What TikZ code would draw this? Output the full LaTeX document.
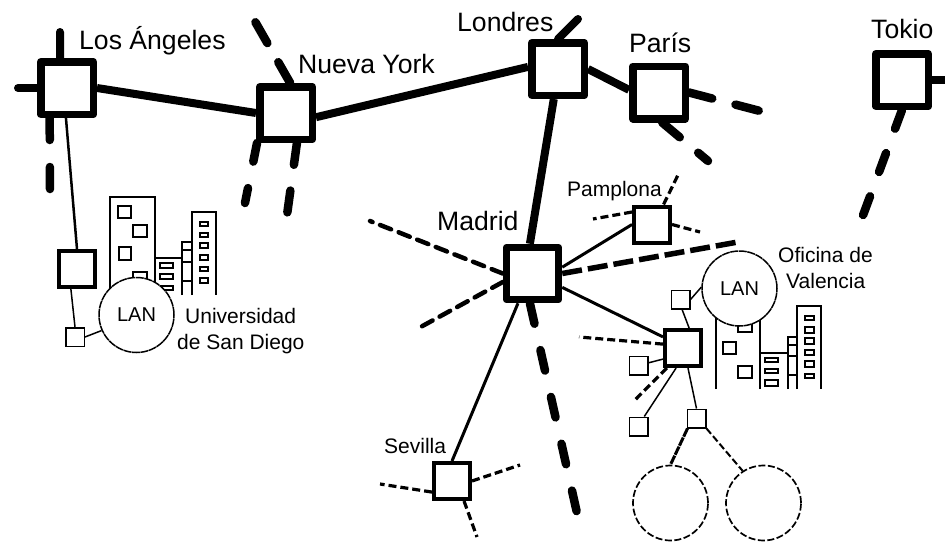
\documentclass[tikz,border=0pt]{standalone}
\usepackage{fontspec}
\setmainfont{Liberation Sans}
\tikzset{
  bigsw/.style={draw,fill=white,line width=7.5pt,minimum size=52.5pt,inner sep=0pt,line join=round},
  midsw/.style={draw,fill=white,line width=4pt,minimum size=36pt,inner sep=0pt},
  host/.style={draw,fill=white,line width=1.5pt,minimum size=18.5pt,inner sep=0pt},
  lan/.style={circle,draw,fill=white,line width=1.5pt,minimum size=75pt,inner sep=0pt,dash pattern=on 8pt off .6pt,font=\fontsize{20}{22}\selectfont},
  net/.style={circle,draw,fill=white,line width=1.7pt,minimum size=75pt,inner sep=0pt,dash pattern=on 7pt off 2.5pt},
  lab/.style={inner sep=0pt,anchor=base west},
  big/.style={lab,font=\fontsize{26.6}{28}\selectfont},
  sml/.style={lab,font=\fontsize{21}{23}\selectfont},
  trunk/.style={line width=8pt},
  trunkd/.style={line width=8.5pt,line cap=round},
  feed/.style={line width=4.5pt,line cap=round,dash pattern=on 12pt off 8pt},
  feedb/.style={line width=5.5pt,dash pattern=on 20pt off 6pt},
  tail/.style={line width=3.2pt,dash pattern=on 8pt off 4pt},
  link/.style={line width=3pt},
  thin/.style={line width=1.5pt},
  bld/.style={line width=1.5pt},
  win/.style={line width=1.5pt}
}
\begin{document}
\begin{tikzpicture}[x=1pt,y=-1pt]
\useasboundingbox (0,0) rectangle (945,541);
% free ends
\coordinate (e1) at (60,32); \coordinate (e2) at (18,88); \coordinate (e3) at (50,192);
\coordinate (e4) at (253,18); \coordinate (e5) at (245,203); \coordinate (e6) at (287,215);
\coordinate (e7) at (578,19); \coordinate (e8) at (760,111); \coordinate (e9) at (708,161);
\coordinate (e10) at (945,80); \coordinate (e11) at (862,218);
\coordinate (e12) at (370,221); \coordinate (e13) at (417,329); \coordinate (e14) at (738,242);
\coordinate (e15) at (577,513); \coordinate (e16) at (520,465); \coordinate (e17) at (380,484);
\coordinate (e18) at (477,537); \coordinate (e19) at (678,175); \coordinate (e20) at (593,219);
\coordinate (e21) at (700,232); \coordinate (e22) at (579,337); \coordinate (e23) at (633,402);
% San Diego buildings
\draw[bld] (110,290) |- (155,197) -- (155,295) (155,258) -- (182,258) (182,295) |- (192,242) (192,295) |- (216,212) -- (216,295)
  (182,250) -- (192,250) (182,262) -- (192,262) (182,281) -- (192,281);
\draw[win] (118,206) rectangle (131,218) (133,225) rectangle (147,237) (119,247) rectangle (131,260) (133,272) rectangle (147,290)
  (160,263) rectangle (173,268) (160,274) rectangle (173,279) (160,286) rectangle (173,290)
  (200,222) rectangle (208,226) (200,233) rectangle (208,237) (200,243) rectangle (208,248)
  (200,255) rectangle (208,260) (200,267) rectangle (208,271) (200,278) rectangle (208,283);
% Valencia buildings
\draw[bld] (716,389) -- (716,310) (760,389) -- (760,310) (760,353) -- (788,353) (788,389) |- (797,337) (797,389) |- (821,306) -- (821,389)
  (788,345) -- (797,345) (788,356) -- (797,356) (788,375) -- (797,375);
\draw[win] (738,320) rectangle (752,332) (723,342) rectangle (736,354) (738,366) rectangle (752,378)
  (765,358) rectangle (778,362) (765,369) rectangle (778,373) (765,380) rectangle (778,386)
  (805,316) rectangle (814,320) (805,327) rectangle (814,333) (805,338) rectangle (814,344)
  (805,350) rectangle (814,355) (805,361) rectangle (814,367) (805,374) rectangle (814,378);
% nodes
\node[bigsw] (LA) at (67,88) {};
\node[bigsw] (NY) at (286,113) {};
\node[bigsw] (LO) at (558,69) {};
\node[bigsw] (PA) at (659,92.5) {};
\node[bigsw] (TK) at (902,80) {};
\node[bigsw,minimum size=52pt] (MA) at (532.5,273.5) {};
\node[midsw] (SD) at (77,269) {};
\node[midsw] (PM) at (652,224.5) {};
\node[midsw] (VA) at (683,348) {};
\node[midsw] (SE) at (452,481) {};
\node[host] (h1) at (75,337) {};
\node[host] (h2) at (680.5,299.5) {};
\node[host] (h3) at (638.5,365.5) {};
\node[host] (h4) at (638.5,426.5) {};
\node[host] (h5) at (696.5,418.5) {};
\node[lan] (L1) at (136.5,315) {LAN};
\node[lan] (L2) at (739.5,288.5) {LAN};
\node[net] (N1) at (670.5,503) {};
\node[net] (N2) at (763.5,503) {};
% labels
\node[big] (tLA) at (79,49) {Los Ángeles};
\node[big] (tNY) at (298,73) {Nueva York};
\node[big] (tLO) at (457,31) {Londres};
\node[big] (tPA) at (629,52) {París};
\node[big] (tTK) at (871,38) {Tokio};
\node[big] (tMA) at (437,230) {Madrid};
\node[sml] (tPM) at (567,196) {Pamplona};
\node[sml] (tSE) at (384,453) {Sevilla};
\node[sml] (tU1) at (185,323) {Universidad};
\node[sml] (tU2) at (177,349) {de San Diego};
\node[sml] (tO1) at (778,262) {Oficina de};
\node[sml] (tO2) at (786,288) {Valencia};
% backbone
\draw[trunk] (LA.east) -- (NY.west);
\draw[trunk] (NY.352) -- (LO.176);
\draw[trunk] (LO.east) -- (PA.175);
\draw[trunk] (LO.262) -- (MA.95);
% stubs
\draw[trunk,line cap=round] (LA.103) -- (e1);
\draw[trunk,line cap=round] (LA.west) -- (e2);
\draw[trunkd,dash pattern=on 22pt off 27pt] (LA.240) -- (e3);
\draw[trunkd,dash pattern=on 24pt off 22pt] (NY.82) -- (e4);
\draw[trunkd,dash pattern=on 19pt off 27pt] (NY.226) -- (e5);
\draw[trunkd,dash pattern=on 22pt off 26pt] (NY.290) -- (e6);
\draw[trunk,line cap=round] (LO.north) -- (e7);
\draw[trunkd,dash pattern=on 24pt off 24pt] (PA.east) -- (e8);
\draw[trunkd,dash pattern=on 23pt off 24pt] (PA.276) -- (e9);
\draw[trunk] (TK.east) -- (e10);
\draw[trunkd,dash pattern=on 20pt off 26pt] (TK.south) -- (e11);
\draw[trunkd,dash pattern=on 21pt off 27pt] (MA.265) -- (e15);
% Madrid
\draw[feed] (MA.west) -- (e12);
\draw[feed] (MA.196) -- (e13);
\draw[feedb] (MA.east) -- (e14);
\draw[link] (MA.12) -- (PM.west);
\draw[link] (MA.335) -- (VA.151);
\draw[link] (MA.244) -- (SE.north);
% Sevilla
\draw[tail] (SE.east) -- (e16);
\draw[tail] (SE.209) -- (e17);
\draw[tail] (SE.301) -- (e18);
% Pamplona
\draw[tail] (PM.60) -- (e19);
\draw[tail] (PM.148) -- (e20);
\draw[tail] (PM.east) -- (e21);
% Valencia
\draw[tail] (VA.169) -- (e22);
\draw[tail] (VA.231) -- (e23);
\draw[thin] (VA.209) -- (h3.15);
\draw[thin] (VA.251) -- (h4.60);
\draw[thin] (VA.284) -- (h5.north);
\draw[thin] (VA.73) -- (h2.279);
\draw[thin] (h2.east) -- (L2.178);
\draw[line width=3pt,dash pattern=on 9pt off 1pt] (h5.228) -- (N1.north);
\draw[line width=2pt,dash pattern=on 7pt off 3pt] (h5.315) -- (N2.123);
% San Diego
\draw[line width=2.5pt] (LA.268) -- (SD.north);
\draw[thin] (SD.253) -- (h1.north);
\draw[thin] (h1.east) -- (L1.204);
\end{tikzpicture}
\end{document}
